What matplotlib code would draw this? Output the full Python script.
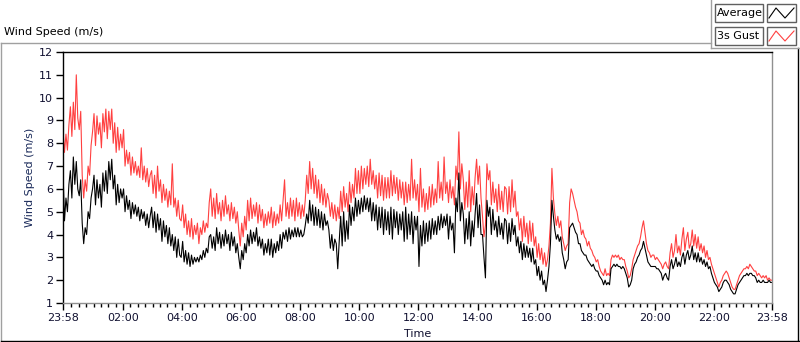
import matplotlib
matplotlib.use('Agg')
import matplotlib.pyplot as plt
from matplotlib.lines import Line2D
from matplotlib.patches import Rectangle
import numpy as np

# minutes since 23:58, one value every 3 minutes (24 rows of 20 + final)
gust = [
    8.6, 7.6, 8.4, 7.7, 8.8, 9.6, 8.3, 9.8, 8.6, 11.0, 9.1, 8.6, 9.4, 6.6, 5.6, 6.4, 5.9, 7.0, 6.6, 7.9,
    8.5, 9.3, 7.9, 9.2, 8.4, 8.9, 7.8, 9.3, 8.5, 9.5, 8.2, 9.4, 8.6, 9.5, 8.0, 8.9, 7.6, 8.7, 7.7, 8.4,
    7.8, 8.6, 7.0, 7.7, 7.1, 7.6, 6.6, 7.4, 6.7, 7.2, 6.6, 7.0, 6.5, 7.8, 6.4, 7.0, 6.3, 6.9, 6.1, 6.6,
    6.8, 5.8, 6.6, 5.6, 7.0, 5.9, 6.4, 5.4, 6.2, 5.5, 6.0, 5.2, 5.9, 5.3, 7.1, 5.2, 5.6, 4.8, 5.5, 4.7,
    4.6, 5.3, 4.3, 4.9, 4.0, 4.6, 3.9, 4.7, 3.8, 4.4, 4.0, 4.5, 3.6, 4.3, 4.0, 4.6, 4.1, 4.5, 4.3, 5.4,
    6.0, 4.8, 5.6, 4.7, 5.8, 4.9, 5.4, 4.6, 5.5, 4.8, 5.7, 4.9, 5.3, 4.6, 5.4, 4.7, 5.2, 4.5, 5.0, 4.2,
    3.5, 4.5, 3.9, 4.8, 4.2, 5.5, 4.6, 5.6, 4.7, 5.3, 4.8, 5.4, 4.5, 5.3, 4.6, 5.1, 4.3, 4.9, 4.4, 5.0,
    4.5, 5.2, 4.3, 5.0, 4.4, 4.9, 4.5, 5.3, 4.6, 5.5, 6.4, 4.8, 5.4, 4.7, 5.6, 4.8, 5.5, 4.6, 5.6, 4.8,
    5.4, 4.7, 5.3, 4.8, 5.5, 6.6, 5.8, 7.2, 6.0, 6.9, 5.8, 6.6, 5.6, 6.4, 5.4, 6.2, 5.3, 6.0, 5.2, 5.8,
    5.5, 4.8, 5.4, 4.7, 5.3, 4.6, 5.2, 4.7, 5.9, 5.0, 6.1, 5.2, 5.8, 5.0, 6.3, 5.4, 6.2, 5.6, 6.9, 5.8,
    6.8, 5.8, 7.0, 6.0, 6.9, 6.2, 7.0, 6.1, 7.3, 6.2, 6.8, 6.0, 6.6, 5.6, 6.7, 5.7, 6.6, 5.5, 6.5, 5.6,
    6.5, 5.6, 6.8, 5.7, 6.6, 5.8, 6.5, 5.5, 6.4, 5.6, 6.3, 5.3, 6.3, 5.4, 6.2, 5.5, 7.3, 5.6, 6.4, 5.5,
    6.2, 5.0, 6.9, 5.2, 6.0, 5.0, 5.8, 5.1, 6.1, 5.2, 6.2, 5.3, 6.0, 5.4, 7.2, 5.6, 6.3, 5.5, 7.4, 5.8,
    6.3, 5.4, 6.4, 5.6, 6.1, 5.3, 7.0, 6.4, 8.5, 6.0, 7.1, 6.4, 5.1, 6.3, 5.2, 6.8, 5.0, 6.1, 5.3, 6.5,
    7.3, 6.2, 7.0, 5.6, 4.8, 3.9, 4.4, 7.1, 6.4, 6.8, 5.3, 6.3, 5.4, 6.0, 5.0, 6.2, 5.1, 5.9, 5.0, 6.1,
    6.0, 4.9, 6.1, 5.0, 6.4, 5.2, 5.9, 4.8, 5.0, 4.2, 4.7, 3.7, 4.8, 3.9, 4.5, 3.6, 4.6, 3.7, 4.5, 3.5,
    3.9, 3.0, 3.6, 2.9, 3.4, 2.7, 3.2, 2.6, 2.9, 3.5, 4.5, 6.9, 5.6, 4.9, 4.4, 4.8, 4.3, 4.6, 3.9, 3.6,
    3.3, 3.5, 3.6, 5.4, 6.0, 5.8, 5.5, 5.2, 5.0, 4.6, 4.5, 4.0, 4.2, 3.9, 3.8, 3.5, 3.7, 3.4, 3.3, 3.1,
    3.0, 2.8, 2.9, 2.6, 2.4, 2.3, 2.2, 2.5, 2.2, 2.3, 2.2, 2.9, 3.1, 3.0, 3.1, 3.0, 3.1, 2.9, 3.0, 2.9,
    2.9, 2.6, 2.4, 2.1, 2.2, 2.5, 2.9, 3.1, 3.3, 3.5, 3.6, 3.9, 4.3, 4.6, 4.1, 3.6, 3.3, 3.2, 3.0, 3.1,
    3.1, 2.9, 3.0, 2.9, 2.8, 2.7, 2.5, 2.7, 2.8, 2.6, 2.5, 3.2, 3.6, 3.0, 3.3, 4.0, 3.2, 3.5, 3.1, 3.8,
    4.3, 3.3, 3.8, 4.1, 3.4, 3.6, 4.2, 3.5, 4.0, 3.4, 3.9, 3.3, 3.6, 3.2, 3.5, 3.0, 3.3, 2.9, 3.0, 2.7,
    2.5, 2.3, 2.1, 1.9, 1.7, 1.9, 2.0, 2.2, 2.3, 2.4, 2.3, 2.1, 1.9, 1.7, 1.6, 1.6, 1.8, 2.0, 2.2, 2.3,
    2.4, 2.5, 2.5, 2.6, 2.5, 2.7, 2.6, 2.5, 2.4, 2.4, 2.2, 2.3, 2.2, 2.1, 2.2, 2.1, 2.2, 2.0, 2.1, 2.0,
    2.0,
]

average = [
    6.8, 4.6, 5.6, 5.0, 6.2, 6.8, 5.6, 7.4, 6.2, 7.2, 6.0, 5.7, 6.4, 4.5, 3.6, 4.3, 4.0, 5.0, 4.7, 5.6,
    6.0, 6.6, 5.3, 6.4, 5.6, 6.2, 5.2, 6.7, 5.9, 6.8, 5.8, 7.2, 6.4, 7.3, 6.0, 6.6, 5.3, 6.2, 5.4, 6.0,
    5.6, 6.0, 5.0, 5.7, 5.1, 5.5, 4.7, 5.4, 4.9, 5.3, 4.8, 5.2, 4.6, 5.1, 4.7, 5.0, 4.4, 4.9, 4.3, 4.8,
    5.2, 4.3, 5.0, 4.1, 4.9, 4.2, 4.7, 3.7, 4.6, 3.9, 4.4, 3.6, 4.3, 3.5, 4.0, 3.3, 3.9, 3.0, 3.8, 3.1,
    3.0, 3.7, 2.8, 3.3, 2.7, 3.2, 2.6, 3.1, 2.7, 3.0, 2.8, 3.0, 2.8, 3.1, 2.9, 3.3, 3.0, 3.4, 3.2, 3.9,
    4.0, 3.4, 3.9, 3.3, 4.3, 3.6, 4.1, 3.4, 4.0, 3.5, 4.2, 3.6, 4.0, 3.3, 4.1, 3.5, 3.9, 3.2, 3.6, 3.0,
    2.5, 3.3, 2.9, 3.6, 3.2, 4.0, 3.5, 4.2, 3.6, 4.1, 3.7, 4.3, 3.5, 3.9, 3.4, 3.8, 3.1, 3.6, 3.2, 3.8,
    3.1, 3.8, 3.0, 3.6, 3.2, 3.7, 3.3, 4.0, 3.4, 4.1, 3.8, 4.2, 3.7, 4.3, 3.8, 4.2, 3.9, 4.3, 3.9, 4.3,
    3.9, 4.2, 3.9, 4.0, 4.4, 4.9, 4.5, 5.5, 4.6, 5.3, 4.4, 5.2, 4.4, 5.1, 4.3, 5.0, 4.2, 4.9, 4.4, 4.6,
    4.2, 3.4, 4.0, 3.3, 3.8, 3.6, 2.5, 3.7, 4.8, 3.5, 5.0, 3.7, 4.6, 3.8, 5.3, 4.4, 5.2, 4.6, 5.6, 4.8,
    5.5, 4.9, 5.6, 5.0, 5.7, 5.1, 5.6, 5.0, 5.6, 4.6, 5.4, 4.6, 5.3, 4.2, 5.2, 4.3, 5.2, 4.0, 5.1, 4.2,
    5.0, 4.0, 5.2, 3.8, 5.1, 4.3, 5.0, 4.0, 4.9, 4.2, 5.0, 3.7, 5.2, 3.8, 4.9, 4.0, 5.0, 3.6, 4.8, 4.2,
    4.8, 2.6, 4.4, 3.5, 4.6, 3.6, 4.5, 3.7, 4.6, 3.8, 4.7, 4.0, 4.6, 4.0, 4.8, 4.2, 4.9, 4.3, 4.8, 4.4,
    4.9, 3.8, 4.8, 4.2, 4.5, 3.2, 5.6, 5.0, 6.7, 4.6, 5.4, 4.9, 3.6, 4.7, 3.8, 5.0, 3.5, 4.6, 3.9, 4.9,
    5.8, 4.3, 5.3, 4.0, 4.0, 3.0, 2.1, 5.5, 4.8, 5.2, 4.0, 5.1, 4.2, 4.6, 3.9, 4.8, 4.0, 4.5, 3.8, 4.7,
    4.6, 3.6, 4.5, 3.7, 4.7, 4.0, 4.4, 3.5, 3.9, 3.2, 3.7, 2.9, 3.6, 3.0, 3.5, 3.0, 3.4, 2.8, 3.4, 2.7,
    2.9, 2.2, 2.6, 2.0, 2.4, 1.8, 2.0, 1.5, 2.0, 2.6, 3.6, 5.5, 4.8, 4.2, 3.8, 4.0, 3.7, 3.9, 3.2, 2.9,
    2.5, 2.8, 2.9, 4.3, 4.4, 4.5, 4.3, 4.1, 4.0, 3.6, 3.6, 3.3, 3.2, 3.1, 3.1, 2.9, 2.8, 2.7, 2.6, 2.7,
    2.5, 2.4, 2.4, 2.2, 2.1, 2.0, 1.8, 2.0, 1.8, 1.9, 1.8, 2.5, 2.6, 2.7, 2.6, 2.7, 2.6, 2.6, 2.5, 2.6,
    2.5, 2.3, 2.1, 1.7, 1.8, 2.0, 2.5, 2.7, 2.8, 3.0, 3.1, 3.3, 3.4, 3.7, 3.4, 3.1, 2.8, 2.7, 2.6, 2.6,
    2.6, 2.6, 2.5, 2.5, 2.4, 2.3, 2.0, 2.2, 2.3, 2.1, 2.0, 2.6, 2.9, 2.5, 2.7, 3.0, 2.6, 2.8, 2.6, 3.0,
    3.2, 2.7, 3.1, 3.3, 2.9, 3.1, 3.5, 2.9, 3.2, 2.8, 3.2, 2.8, 3.0, 2.7, 2.9, 2.6, 2.8, 2.5, 2.6, 2.3,
    2.1, 1.9, 1.8, 1.7, 1.5, 1.6, 1.7, 1.9, 2.0, 2.0, 1.9, 1.8, 1.6, 1.5, 1.4, 1.4, 1.6, 1.8, 1.9, 2.0,
    2.1, 2.2, 2.2, 2.3, 2.2, 2.3, 2.3, 2.2, 2.2, 2.1, 1.9, 2.0, 1.9, 1.9, 2.0, 1.9, 1.9, 1.9, 2.0, 1.9,
    1.9,
]

minutes = np.arange(0, 1441, 3)

tick_minutes = [0, 122, 242, 362, 482, 602, 722, 842, 962, 1082, 1202, 1322, 1440]
tick_labels = ['23:58', '02:00', '04:00', '06:00', '08:00', '10:00', '12:00',
               '14:00', '16:00', '18:00', '20:00', '22:00', '23:58']
minor_minutes = [2 + 15 * k for k in range(1, 96) if k % 8 != 0]

W, H = 800, 342
def fx(x):
    return x / W
def fy(y):
    return 1 - y / H

plt.rcParams['font.family'] = 'DejaVu Sans'
plt.rcParams['font.size'] = 8

fig = plt.figure(figsize=(8, 3.42), dpi=100)
ax = fig.add_axes([fx(63), fy(303), fx(772) - fx(63), fy(52) - fy(303)])

ax.plot(minutes, gust, color='#ff4040', lw=0.8)
ax.plot(minutes, average, color='black', lw=0.8)

ax.set_xlim(0, 1440)
ax.set_ylim(1, 12)
ax.set_yticks(range(1, 13))
ax.set_xticks(tick_minutes)
ax.set_xticklabels(tick_labels)
ax.set_xticks(minor_minutes, minor=True)
ax.tick_params(axis='both', which='major', length=5, width=1, direction='out',
               colors='black', labelcolor='#101030', labelsize=8, pad=2)
ax.tick_params(axis='x', which='minor', length=3, width=1, direction='out')

ax.spines['left'].set_color('black')
ax.spines['top'].set_color('black')
ax.spines['right'].set_color('#909090')
ax.spines['bottom'].set_color('#909090')
for s in ax.spines.values():
    s.set_linewidth(1)

fig.text(fx(30), fy(177), 'Wind Speed (m/s)', rotation=90, ha='center', va='center',
         color='#1a2a5a', fontsize=8)
fig.text(fx(418), fy(334), 'Time', ha='center', va='center', color='#101030', fontsize=8)
fig.text(fx(4), fy(32), 'Wind Speed (m/s)', ha='left', va='center', color='black', fontsize=8)

# outer panel
gray = '#a0a0a0'
fig.add_artist(Line2D([fx(1), fx(711)], [fy(43), fy(43)], color=gray, lw=1))
fig.add_artist(Line2D([fx(1), fx(1)], [fy(43), fy(341)], color=gray, lw=1))
fig.add_artist(Line2D([fx(1), fx(799)], [fy(341), fy(341)], color='black', lw=1))
fig.add_artist(Line2D([fx(798), fx(798)], [fy(48), fy(341)], color='black', lw=1))
fig.add_artist(Line2D([fx(711), fx(711)], [fy(0), fy(48)], color=gray, lw=1))
fig.add_artist(Line2D([fx(711), fx(800)], [fy(48), fy(48)], color=gray, lw=1))

# legend
legend_names = ['Average', '3s Gust']
legend_colors = ['black', '#ff4040']
for i, (name, col) in enumerate(zip(legend_names, legend_colors)):
    top = 4 + i * 23
    fig.add_artist(Rectangle((fx(715), fy(top + 18)), fx(763) - fx(715), fy(top) - fy(top + 18),
                             transform=fig.transFigure, facecolor='white',
                             edgecolor='#606060', lw=1))
    fig.add_artist(Rectangle((fx(767), fy(top + 18)), fx(796) - fx(767), fy(top) - fy(top + 18),
                             transform=fig.transFigure, facecolor='white',
                             edgecolor='#606060', lw=1))
    fig.text(fx(717), fy(top + 9), name, ha='left', va='center', fontsize=8, color='black')
    zx = [769, 776, 785, 794]
    zy = [top + 14, top + 4, top + 14, top + 4]
    fig.add_artist(Line2D([fx(v) for v in zx], [fy(v) for v in zy], color=col, lw=0.8))

fig.savefig('out.png', dpi=100)
